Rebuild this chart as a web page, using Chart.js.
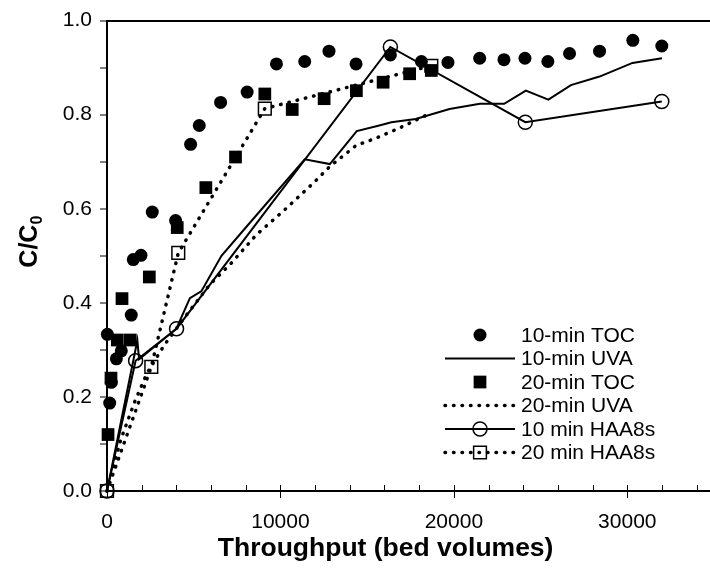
<!DOCTYPE html>
<html lang="en">
<head>
  <meta charset="UTF-8" />
  <title>Breakthrough curves</title>
  <script src="https://cdn.jsdelivr.net/npm/chart.js"></script>
  <style>
    html, body { margin: 0; padding: 0; background: #fff; overflow: hidden; }
    #wrap { position: absolute; left: 0; top: 0; width: 716px; height: 569px; }
  </style>
</head>
<body>
  <div id="wrap"><canvas id="bvChart" width="716" height="569"></canvas></div>

  <script>
    // 10-min TOC (filled circles)
    const toc10X = [20, 155, 250, 540, 825, 1400, 1515, 1960, 2610, 3955, 4820, 5320, 6550, 8080, 9770, 11400, 12800, 14360, 16340, 18130, 19660, 21490, 22890, 24100, 25420, 26670, 28400, 30320, 31990];
    const toc10Y = [0.333, 0.187, 0.231, 0.281, 0.298, 0.374, 0.492, 0.501, 0.593, 0.575, 0.737, 0.777, 0.826, 0.848, 0.908, 0.913, 0.935, 0.908, 0.927, 0.913, 0.911, 0.920, 0.917, 0.920, 0.913, 0.930, 0.935, 0.958, 0.946];

    // 10-min UVA (solid line)
    const uva10X = [0, 1750, 1850, 4000, 4780, 5450, 6600, 8140, 11400, 12850, 14400, 15700, 16400, 17800, 19750, 21500, 22900, 24150, 25450, 26750, 28400, 30300, 32000];
    const uva10Y = [0, 0.32, 0.28, 0.345, 0.41, 0.425, 0.50, 0.566, 0.705, 0.695, 0.765, 0.777, 0.784, 0.791, 0.812, 0.823, 0.823, 0.851, 0.832, 0.863, 0.881, 0.910, 0.920];

    // 20-min TOC (filled squares)
    const toc20X = [60, 230, 595, 865, 1345, 2440, 4050, 5700, 7410, 9100, 10680, 12520, 14380, 15920, 17450, 18700];
    const toc20Y = [0.12, 0.24, 0.321, 0.409, 0.321, 0.455, 0.560, 0.645, 0.710, 0.844, 0.811, 0.834, 0.851, 0.869, 0.887, 0.894];

    // 20-min UVA (dotted line)
    const uva20X = [0, 800, 1600, 2300, 3300, 4600, 5930, 7180, 8620, 10250, 11880, 12850, 14380, 15440, 16880, 18420];
    const uva20Y = [0, 0.11, 0.19, 0.25, 0.31, 0.375, 0.439, 0.485, 0.545, 0.598, 0.654, 0.69, 0.735, 0.749, 0.772, 0.799];

    // HAA8s, open markers
    const haa10X = [0, 1650, 4010, 16340, 24120, 31990];
    const haa10Y = [0, 0.277, 0.345, 0.944, 0.784, 0.828];
    const haa20X = [0, 2555, 4110, 9100, 18700];
    const haa20Y = [0, 0.264, 0.506, 0.813, 0.904];

    const seriesNames = ['10-min TOC', '10-min UVA', '20-min TOC', '20-min UVA', '10 min HAA8s', '20 min HAA8s'];

    // x ticks every 2000, labelled every 10000
    const xTickValues = [0, 2000, 4000, 6000, 8000, 10000, 12000, 14000, 16000, 18000, 20000, 22000, 24000, 26000, 28000, 30000, 32000, 34000];
    const xLabelValues = [0, 10000, 20000, 30000];

    const FONT = 'Arial, "Liberation Sans", sans-serif';
    Chart.defaults.font.family = FONT;
    Chart.defaults.color = '#000';

    const pts = (xs, ys) => xs.map((x, i) => ({ x: x, y: ys[i] }));
    const DOTS = [0.5, 8];

    function marker(ctx, style, r, fill, x, y) {
      ctx.beginPath();
      if (style === 'rect') {
        const s = r * Math.SQRT1_2;
        ctx.rect(x - s, y - s, 2 * s, 2 * s);
      } else {
        ctx.arc(x, y, r, 0, Math.PI * 2);
      }
      if (fill !== 'transparent') { ctx.fillStyle = fill; ctx.fill(); }
      else { ctx.lineWidth = 1.5; ctx.strokeStyle = '#000'; ctx.stroke(); }
    }

    // tick marks, axis titles and the legend inside the plot
    const paperPlugin = {
      id: 'paper',
      afterDraw(chart) {
        const ctx = chart.ctx, area = chart.chartArea, xs = chart.scales.x;
        ctx.save();

        ctx.strokeStyle = '#000';
        ctx.lineWidth = 1;
        xs.ticks.forEach(t => {
          const px = Math.round(xs.getPixelForValue(t.value)) + 0.5;
          const major = xLabelValues.includes(t.value);
          ctx.beginPath();
          ctx.moveTo(px, area.bottom - 6);
          ctx.lineTo(px, major ? area.bottom + 7 : area.bottom);
          ctx.stroke();
        });

        // x title
        ctx.fillStyle = '#000';
        ctx.font = 'bold 26.5px ' + FONT;
        ctx.textAlign = 'center';
        ctx.textBaseline = 'alphabetic';
        ctx.fillText('Throughput (bed volumes)', area.left + (area.right - area.left) * 0.459, chart.height - 13);

        // y title C/C0
        ctx.save();
        ctx.translate(28, area.top + (area.bottom - area.top) * 0.47);
        ctx.rotate(-Math.PI / 2);
        ctx.textAlign = 'left';
        ctx.font = 'bold 25px ' + FONT;
        const w1 = ctx.measureText('C/C').width;
        ctx.font = 'bold 16px ' + FONT;
        const w2 = ctx.measureText('0').width;
        const x0 = -(w1 + w2) / 2;
        ctx.font = 'bold 25px ' + FONT;
        ctx.fillText('C/C', x0, 9);
        ctx.font = 'bold 16px ' + FONT;
        ctx.fillText('0', x0 + w1, 14);
        ctx.restore();

        // legend
        const lx0 = 445, lx1 = 515, mx = 480, tx = 521;
        ctx.font = '21px ' + FONT;
        ctx.textAlign = 'left';
        ctx.textBaseline = 'middle';
        chart.data.datasets.forEach((ds, i) => {
          const y = 335 + i * 23.5;
          if (ds.showLine) {
            ctx.save();
            ctx.strokeStyle = '#000';
            ctx.lineWidth = ds.borderWidth;
            ctx.lineCap = ds.borderCapStyle || 'butt';
            ctx.setLineDash(ds.borderDash || []);
            ctx.beginPath();
            ctx.moveTo(lx0, y);
            ctx.lineTo(lx1, y);
            ctx.stroke();
            ctx.restore();
          }
          if (ds.pointRadius > 0) {
            marker(ctx, ds.pointStyle, ds.pointRadius, ds.pointBackgroundColor, mx, y);
          }
          ctx.fillStyle = '#000';
          ctx.fillText(ds.label, tx, y + 1);
        });

        ctx.restore();
      }
    };

    const ctx = document.getElementById('bvChart').getContext('2d');

    new Chart(ctx, {
      type: 'scatter',
      data: {
        datasets: [
          {
            label: seriesNames[0], data: pts(toc10X, toc10Y), showLine: false,
            pointStyle: 'circle', pointRadius: 6.5, pointBackgroundColor: '#000', pointBorderWidth: 0, clip: false
          },
          {
            label: seriesNames[1], data: pts(uva10X, uva10Y), showLine: true,
            borderColor: '#000', borderWidth: 2, pointRadius: 0, clip: false
          },
          {
            label: seriesNames[2], data: pts(toc20X, toc20Y), showLine: false,
            pointStyle: 'rect', pointRadius: 9, pointBackgroundColor: '#000', pointBorderWidth: 0, clip: false
          },
          {
            label: seriesNames[3], data: pts(uva20X, uva20Y), showLine: true,
            borderColor: '#000', borderWidth: 3.5, borderDash: DOTS, borderCapStyle: 'round',
            pointRadius: 0, clip: false
          },
          {
            label: seriesNames[4], data: pts(haa10X, haa10Y), showLine: true,
            borderColor: '#000', borderWidth: 2,
            pointStyle: 'circle', pointRadius: 7, pointBackgroundColor: 'transparent',
            pointBorderColor: '#000', pointBorderWidth: 1.5, clip: false
          },
          {
            label: seriesNames[5], data: pts(haa20X, haa20Y), showLine: true,
            borderColor: '#000', borderWidth: 3.5, borderDash: DOTS, borderCapStyle: 'round',
            pointStyle: 'rect', pointRadius: 9, pointBackgroundColor: 'transparent',
            pointBorderColor: '#000', pointBorderWidth: 1.5, clip: false
          }
        ]
      },
      options: {
        responsive: false,
        animation: false,
        events: [],
        layout: { autoPadding: false, padding: { top: 18, right: 2, left: 0, bottom: 0 } },
        plugins: { legend: { display: false }, tooltip: { enabled: false } },
        scales: {
          x: {
            type: 'linear',
            min: 0,
            max: 35000,
            afterBuildTicks: s => { s.ticks = xTickValues.map(v => ({ value: v })); },
            afterFit: s => { s.height = 78; s.paddingRight = 0; },
            grid: { display: false },
            border: { display: true, color: '#000', width: 2 },
            ticks: {
              autoSkip: false,
              maxRotation: 0,
              padding: 11,
              font: { size: 21 },
              callback: v => (xLabelValues.includes(v) ? String(v) : '')
            }
          },
          y: {
            min: 0,
            max: 1,
            afterFit: s => { s.width = 107; },
            grid: {
              drawOnChartArea: true,
              color: c => (c.tick && Math.abs(c.tick.value - 1) < 1e-6 ? '#000' : 'transparent'),
              lineWidth: 2,
              tickColor: '#000',
              tickWidth: 1,
              tickLength: 7
            },
            border: { display: true, color: '#000', width: 2 },
            ticks: {
              stepSize: 0.1,
              padding: 8,
              font: { size: 21 },
              callback: v => (Math.round(v * 10) % 2 === 0 ? v.toFixed(1) : '')
            }
          }
        }
      },
      plugins: [paperPlugin]
    });
  </script>
</body>
</html>
